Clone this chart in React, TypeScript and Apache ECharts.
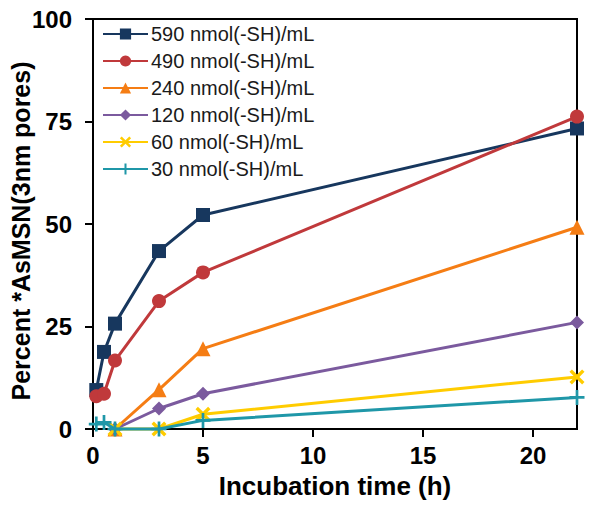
import React, { useEffect, useRef } from "react";
import * as echarts from "echarts";

const seriesNames = [
  "590 nmol(-SH)/mL",
  "490 nmol(-SH)/mL",
  "240 nmol(-SH)/mL",
  "120 nmol(-SH)/mL",
  "60 nmol(-SH)/mL",
  "30 nmol(-SH)/mL",
];

const s590: [number, number][] = [[0.15, 9.5], [0.5, 18.8], [1, 25.7], [3, 43.4], [5, 52.2], [22, 73.3]];
const s490: [number, number][] = [[0.15, 8], [0.5, 8.6], [1, 16.7], [3, 31.2], [5, 38.2], [22, 76.2]];
const s240: [number, number][] = [[1, 0], [3, 9.6], [5, 19.6], [22, 49.2]];
const s120: [number, number][] = [[1, 0], [3, 5], [5, 8.6], [22, 26]];
const s60: [number, number][] = [[1, 0], [3, 0], [5, 3.6], [22, 12.7]];
const s30: [number, number][] = [[0.15, 1.2], [0.5, 1.6], [1, 0], [3, 0], [5, 2.1], [22, 7.7]];

const xTicks = [0, 5, 10, 15, 20];
const yTicks = [0, 25, 50, 75, 100];

const colors = ["#17375E", "#C0393B", "#F57D14", "#7B5A9E", "#FFCC00", "#1F97A8"];

const X_PATH =
  "path://M0,1.6L1.6,0L5,3.4L8.4,0L10,1.6L6.6,5L10,8.4L8.4,10L5,6.6L1.6,10L0,8.4L3.4,5Z";
const PLUS_PATH = "path://M4.1,0H5.9V4.1H10V5.9H5.9V10H4.1V5.9H0V4.1H4.1Z";

const symbols = ["rect", "circle", "triangle", "diamond", X_PATH, PLUS_PATH];
const symbolSizes = [14, 14, 15, 14, 15, 15];

const FONT = 'Arial, "Liberation Sans", sans-serif';

export default function App() {
  const ref = useRef<HTMLDivElement>(null);
  useEffect(() => {
    if (!ref.current) return;
    const chart = echarts.init(ref.current, null, { renderer: "svg" });
    const data = [s590, s490, s240, s120, s60, s30];
    chart.setOption({
      animation: false,
      textStyle: { fontFamily: FONT },
      grid: {
        left: 93,
        right: 24,
        top: 19,
        bottom: 82,
        containLabel: false,
        outerBoundsMode: "none",
        show: true,
        borderColor: "#000",
        borderWidth: 2,
        backgroundColor: "transparent",
      },
      legend: {
        orient: "vertical",
        left: 102,
        top: 24,
        padding: 0,
        itemWidth: 45,
        itemHeight: 14,
        itemGap: 7,
        data: seriesNames,
        textStyle: {
          fontFamily: FONT,
          fontSize: 20,
          lineHeight: 20,
          color: "#1a1a1a",
          padding: [0, 0, 0, -2],
        },
      },
      xAxis: {
        type: "value",
        min: 0,
        max: 22,
        interval: 5,
        name: "Incubation time (h)",
        nameLocation: "middle",
        nameGap: 44,
        nameMoveOverlap: false,
        nameTextStyle: { fontFamily: FONT, fontSize: 26, fontWeight: "bold", color: "#000" },
        splitLine: { show: false },
        axisLine: { show: true, onZero: false, lineStyle: { color: "#000", width: 2 } },
        axisTick: {
          show: true,
          inside: false,
          length: 8,
          customValues: xTicks,
          lineStyle: { color: "#000", width: 2 },
        },
        axisLabel: {
          customValues: xTicks,
          margin: 14,
          fontFamily: FONT,
          fontSize: 24,
          fontWeight: "bold",
          color: "#000",
        },
      },
      yAxis: {
        type: "value",
        min: 0,
        max: 100,
        interval: 25,
        name: "Percent *AsMSN(3nm pores)",
        nameLocation: "middle",
        nameGap: 60,
        nameMoveOverlap: false,
        nameRotate: 90,
        nameTextStyle: {
          fontFamily: FONT,
          fontSize: 25,
          fontWeight: "bold",
          color: "#000",
          padding: [0, 14, 0, 0],
        },
        splitLine: { show: false },
        axisLine: { show: true, lineStyle: { color: "#000", width: 2 } },
        axisTick: {
          show: true,
          inside: false,
          length: 8,
          customValues: yTicks,
          lineStyle: { color: "#000", width: 2 },
        },
        axisLabel: {
          customValues: yTicks,
          margin: 21,
          fontFamily: FONT,
          fontSize: 24,
          fontWeight: "bold",
          color: "#000",
        },
      },
      series: seriesNames.map((name, i) => ({
        name,
        type: "line",
        data: data[i],
        symbol: symbols[i],
        symbolSize: symbolSizes[i],
        showAllSymbol: true,
        clip: false,
        color: colors[i],
        lineStyle: { color: colors[i], width: 3 },
        itemStyle: { color: colors[i], borderWidth: 0 },
        z: 2 + i,
      })),
    });
    return () => chart.dispose();
  }, []);
  return (
    <div
      ref={ref}
      style={{ position: "fixed", left: 0, top: 0, width: 601, height: 511, background: "#fff" }}
    />
  );
}
